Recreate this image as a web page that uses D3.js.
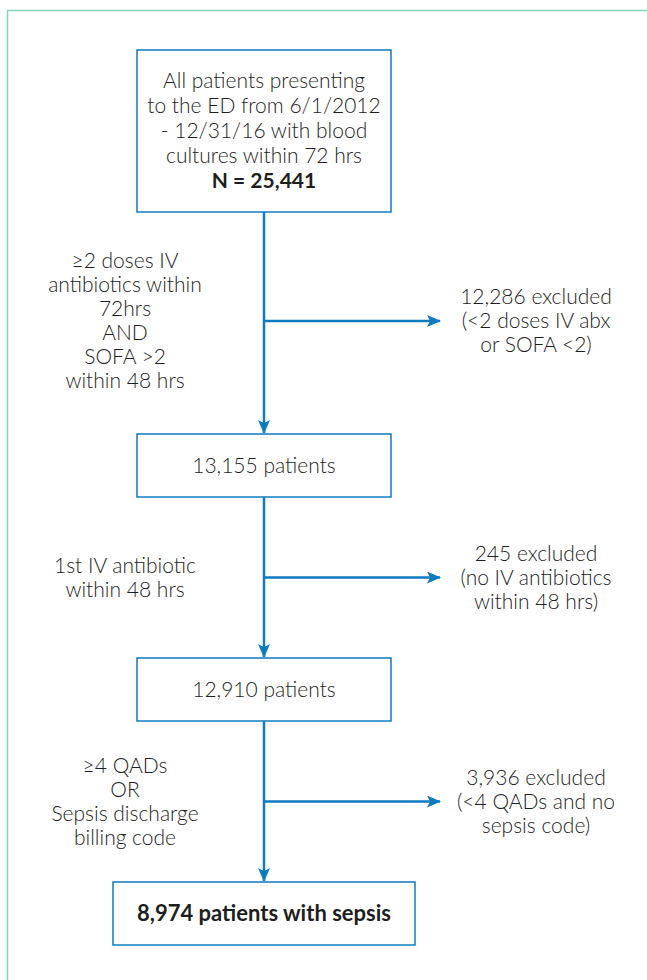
<!DOCTYPE html>
<html>
<head>
<meta charset="utf-8">
<script src="https://cdn.jsdelivr.net/npm/d3@7"></script>
<style>
  body { margin: 0; background: #fff; }
  text { font-family: Lato, "Open Sans", sans-serif; fill: #1e1e1e; }
</style>
</head>
<body>
<div id="flow"></div>
<script>
// flow steps (box texts), top to bottom
const boxLines = [
  ["All patients presenting", "to the ED from 6/1/2012", "- 12/31/16 with blood", "cultures within 72 hrs"],
  [],
  [],
  []
];
const boxCounts = ["N = 25,441", "13,155 patients", "12,910 patients", "8,974 patients with sepsis"];
// criteria applied between steps (left side)
const criteria = [
  ["\u22652 doses IV", "antibiotics within", "72hrs", "AND", "SOFA >2", "within 48 hrs"],
  ["1st IV antibiotic", "within 48 hrs"],
  ["\u22654 QADs", "OR", "Sepsis discharge", "billing code"]
];
// excluded at each step (right side)
const excluded = [
  ["12,286 excluded", "(<2 doses IV abx", "or SOFA <2)"],
  ["245 excluded", "(no IV antibiotics", "within 48 hrs)"],
  ["3,936 excluded", "(<4 QADs and no", "sepsis code)"]
];

const width = 647, height = 980;
const blue = "#0f7bbf";
const lineH = 24;
const fs = 21;

const svg = d3.select("#flow").append("svg")
  .attr("width", width)
  .attr("height", height);

// outer green frame
svg.append("rect")
  .attr("x", 7.5).attr("y", 10.5)
  .attr("width", 700).attr("height", 1000)
  .attr("fill", "none")
  .attr("stroke", "#7fd5b6")
  .attr("stroke-width", 1.5);

svg.append("defs").append("marker")
  .attr("id", "arrow")
  .attr("viewBox", "0 0 14 12")
  .attr("refX", 13).attr("refY", 6)
  .attr("markerWidth", 14).attr("markerHeight", 12)
  .attr("markerUnits", "userSpaceOnUse")
  .attr("orient", "auto")
  .append("path")
  .attr("d", "M0,0 L14,6 L0,12 L3,6 Z")
  .attr("fill", blue);

// box geometry
const boxes = [
  {x0: 137, x1: 391, y0: 50, y1: 212},
  {x0: 137, x1: 391, y0: 434, y1: 497},
  {x0: 137, x1: 391, y0: 658, y1: 721},
  {x0: 113, x1: 415, y0: 882, y1: 945}
];
const cx = 264;

// arrows between boxes
for (let i = 0; i < boxes.length - 1; i++) {
  const top = boxes[i].y1, bot = boxes[i + 1].y0;
  const yScale = d3.scaleLinear().domain([0, 1]).range([top, bot]);
  const branchY = i === 0 ? 321 : yScale(0.5);
  svg.append("line")
    .attr("x1", cx).attr("x2", cx)
    .attr("y1", top).attr("y2", bot - 1)
    .attr("stroke", blue).attr("stroke-width", 2.5)
    .attr("marker-end", "url(#arrow)");
  svg.append("line")
    .attr("x1", cx).attr("x2", 440)
    .attr("y1", branchY).attr("y2", branchY)
    .attr("stroke", blue).attr("stroke-width", 2.5)
    .attr("marker-end", "url(#arrow)");

  const crit = criteria[i];
  svg.append("g").selectAll("text")
    .data(crit)
    .join("text")
    .attr("x", 125)
    .attr("y", (d, j) => branchY + (j - (crit.length - 1) / 2) * lineH)
    .attr("dy", "0.35em")
    .attr("text-anchor", "middle")
    .attr("font-size", fs)
    .attr("font-weight", 300)
    .text(d => d);

  const ex = excluded[i];
  svg.append("g").selectAll("text")
    .data(ex)
    .join("text")
    .attr("x", 536)
    .attr("y", (d, j) => branchY + (j - (ex.length - 1) / 2) * lineH)
    .attr("dy", "0.35em")
    .attr("text-anchor", "middle")
    .attr("font-size", fs)
    .attr("font-weight", 300)
    .text(d => d);
}

// boxes and their text
boxes.forEach((b, i) => {
  svg.append("rect")
    .attr("x", b.x0).attr("y", b.y0)
    .attr("width", b.x1 - b.x0).attr("height", b.y1 - b.y0)
    .attr("fill", "#fff")
    .attr("stroke", blue).attr("stroke-width", 1.5);
  const lines = boxLines[i].map(t => ({t, bold: false}))
    .concat([{t: boxCounts[i], bold: i === 0 || i === 3}]);
  const mid = (b.y0 + b.y1) / 2;
  const step = lines.length > 1 ? 25 : lineH;
  svg.append("g").selectAll("text")
    .data(lines)
    .join("text")
    .attr("x", (b.x0 + b.x1) / 2)
    .attr("y", (d, j) => mid + (j - (lines.length - 1) / 2) * step)
    .attr("dy", "0.35em")
    .attr("text-anchor", "middle")
    .attr("font-size", d => d.bold && i === 3 ? 22 : fs)
    .attr("font-weight", d => d.bold ? 700 : 300)
    .text(d => d.t);
});
</script>
</body>
</html>
